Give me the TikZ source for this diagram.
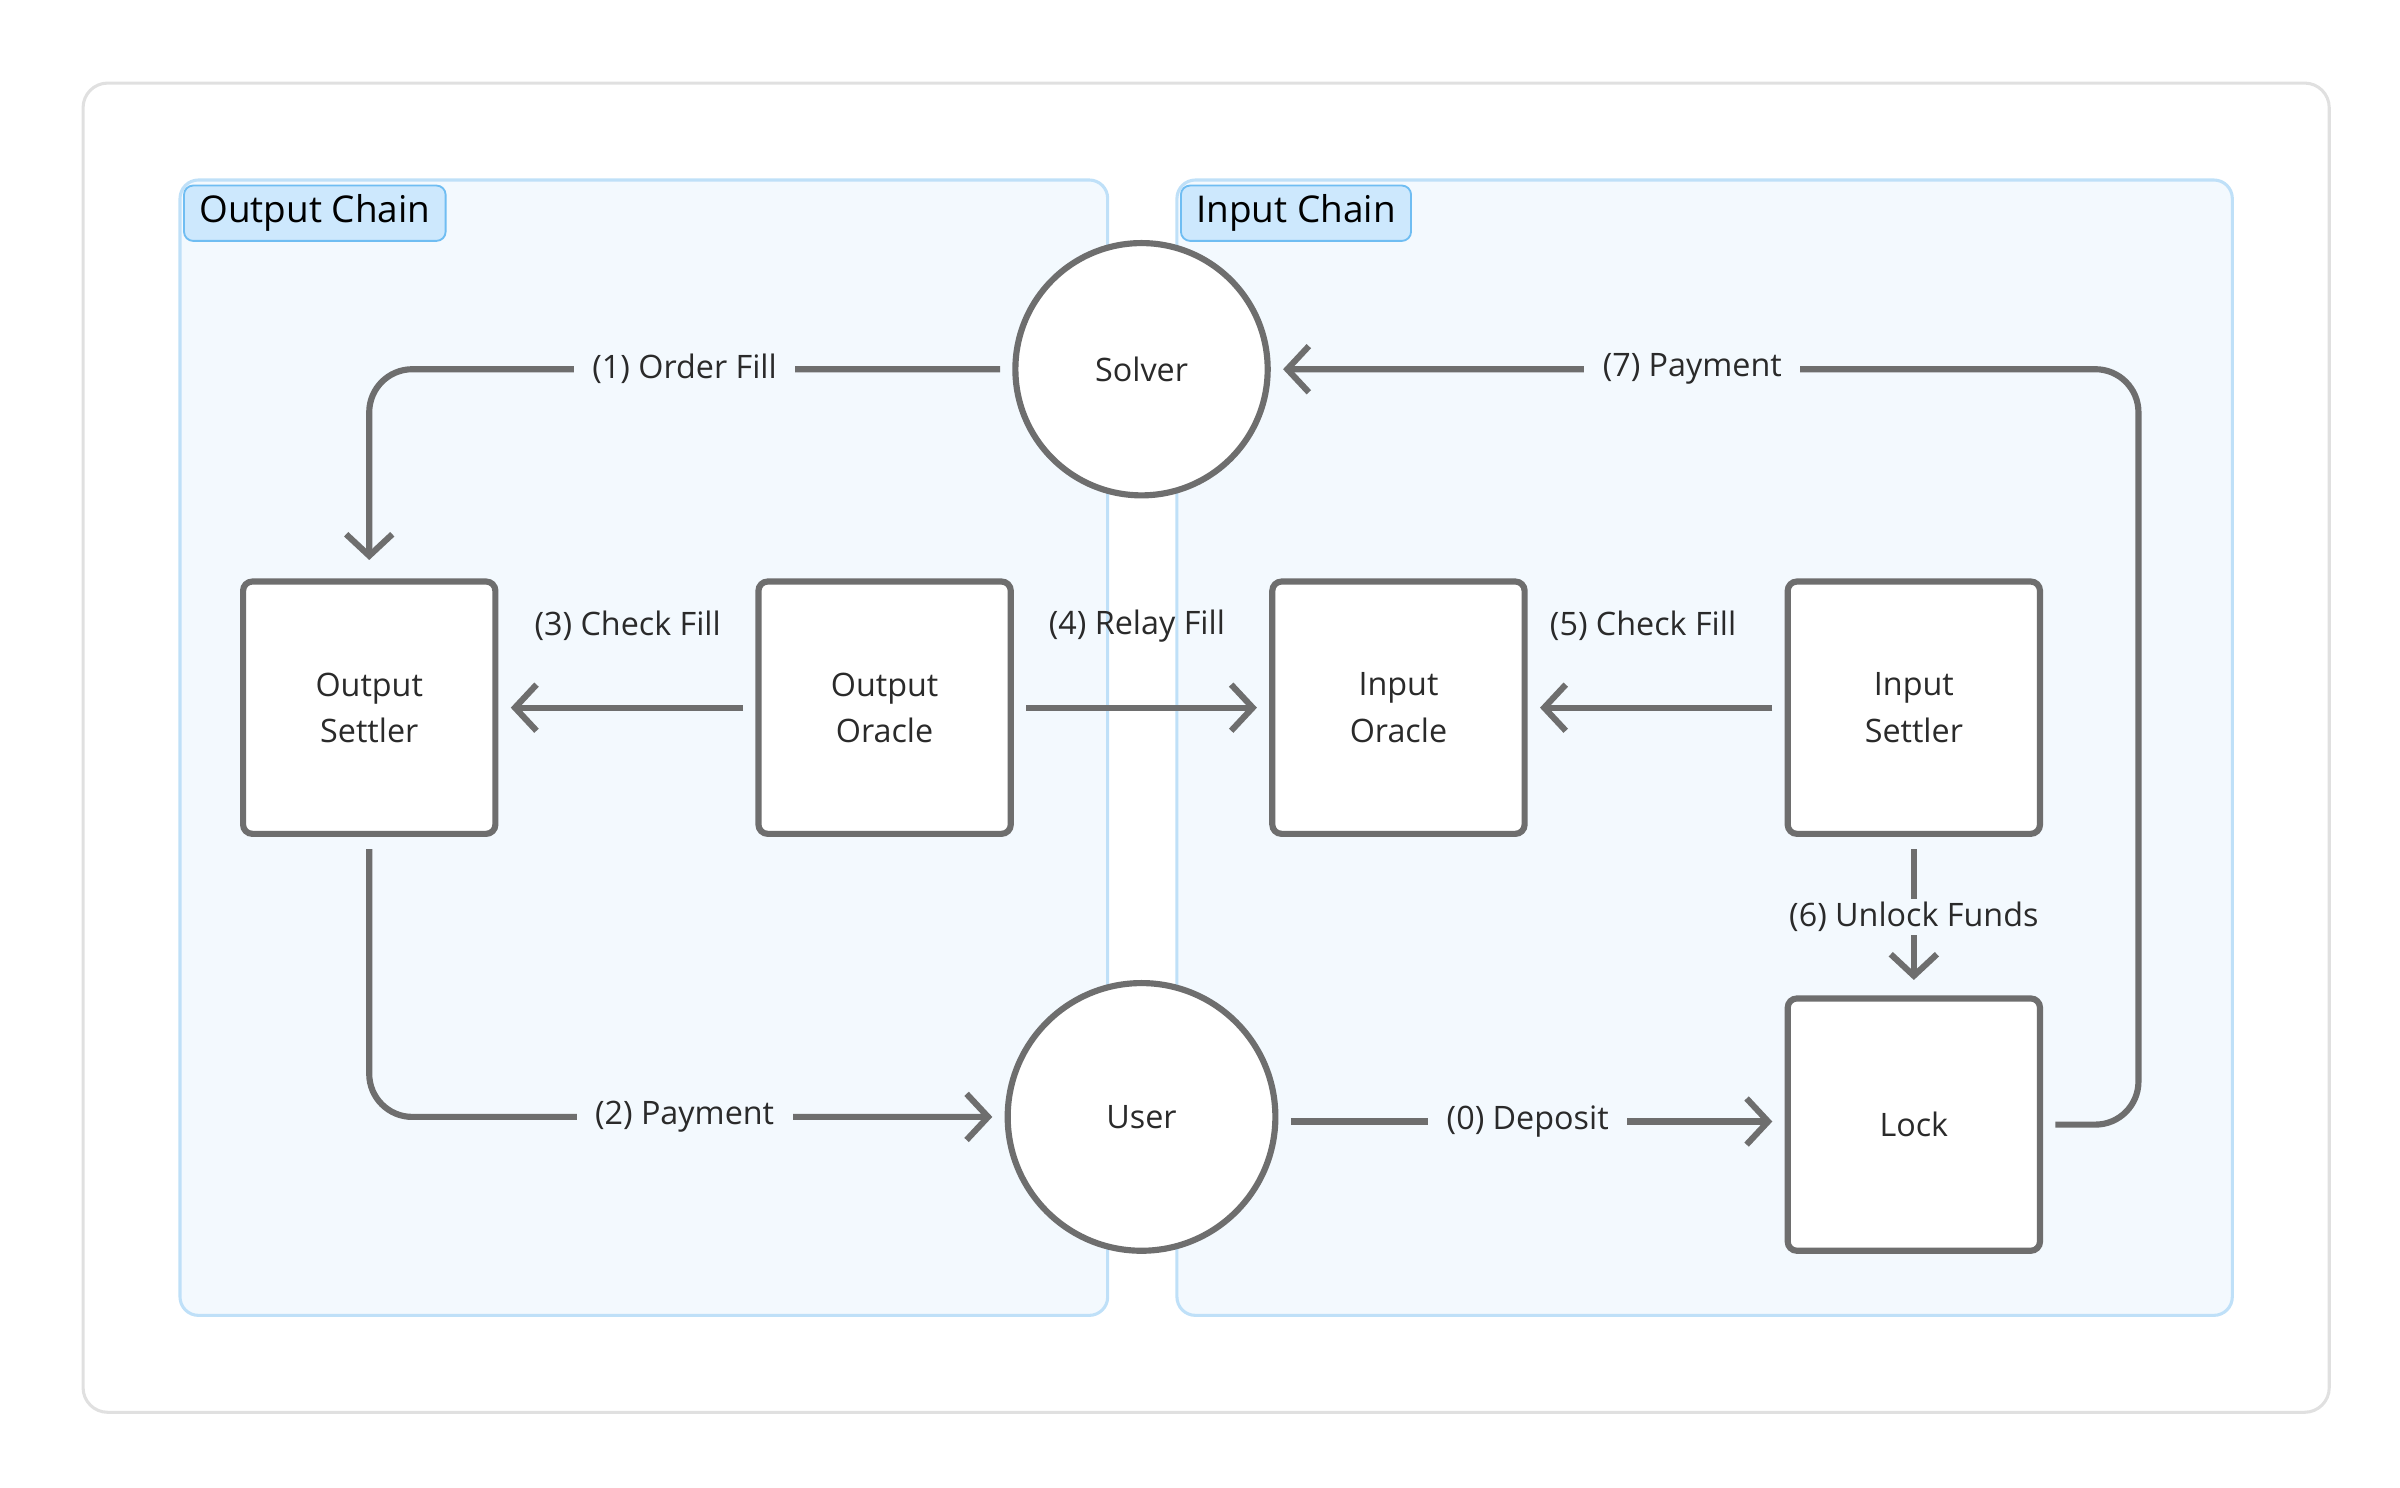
\documentclass[tikz,border=0pt]{standalone}
\usepackage{fontspec}
\setmainfont{Open Sans}
\usetikzlibrary{arrows.meta}
\definecolor{bgblue}{HTML}{F3F9FE}
\definecolor{edgeblue}{HTML}{BFE0F8}
\definecolor{tagfill}{HTML}{CDE8FD}
\definecolor{tagedge}{HTML}{6FBDF2}
\definecolor{ink}{HTML}{6E6E6E}
\definecolor{txt}{HTML}{2A2A2A}
\tikzset{
  region/.style={draw=edgeblue,fill=bgblue,line width=1pt,rounded corners=6pt},
  tag/.style={draw=tagedge,fill=tagfill,line width=0.6pt,rounded corners=3pt,anchor=north west,inner xsep=5pt,inner ysep=3pt,font=\fontsize{12}{14}\selectfont,text=black},
  box/.style={draw=ink,fill=white,line width=2pt,rounded corners=3pt,minimum width=82pt,minimum height=82pt,align=center,font=\fontsize{10.5}{15}\selectfont,text=txt},
  circ/.style={draw=ink,fill=white,line width=2pt,circle,minimum size=82pt,font=\fontsize{10.5}{13}\selectfont,text=txt},
  conn/.style={draw=ink,line width=2pt,rounded corners=14pt},
  arr/.style={conn,-{Straight Barb[length=7pt,width=15pt,line width=2pt]}},
  lbl/.style={font=\fontsize{10.5}{13}\selectfont,text=txt,fill=bgblue,inner xsep=6pt},
  lbln/.style={font=\fontsize{10.5}{13}\selectfont,text=txt}
}
\begin{document}
\begin{tikzpicture}[x=0.5pt,y=-0.5pt]
\useasboundingbox (0,0) rectangle (1560,967);
\draw[draw=black!12,line width=1pt,rounded corners=8pt] (54,54) rectangle (1514,918);
\draw[region] (117,117) rectangle (720,855);
\draw[region] (765,117) rectangle (1451,855);
\node[tag] (toc) at (119,120) {Output Chain};
\node[tag] (tic) at (767,120) {Input Chain};

\node[circ] (solver) at (742,240) {Solver};
\node[circ,minimum size=87pt] (user) at (742,726) {User};
\node[box] (os) at (240,460) {Output\\Settler};
\node[box] (oo) at (575,460) {Output\\Oracle};
\node[box] (io) at (909,460) {Input\\Oracle};
\node[box] (is) at (1244,460) {Input\\Settler};
\node[box] (lock) at (1244,731) {Lock};

\coordinate (c1) at (240,240);
\draw[arr] ([xshift=-4pt]solver.west) -- (c1) -- ([yshift=6pt]os.north);
\node[lbl] at (445,240) {(1) Order Fill};

\coordinate (c2) at (240,726);
\draw[arr] ([yshift=-4pt]os.south) -- (c2) -- ([xshift=-4pt]user.west);
\node[lbl] at (445,726) {(2) Payment};

\draw[arr] ([xshift=-4pt]oo.west) -- ([xshift=4pt]os.east);
\node[lbln] at (408,407) {(3) Check Fill};
\draw[arr] ([xshift=4pt]oo.east) -- ([xshift=-4pt]io.west);
\node[lbln] at (739,407) {(4) Relay Fill};
\draw[arr] ([xshift=-4pt]is.west) -- ([xshift=4pt]io.east);
\node[lbln] at (1068,407) {(5) Check Fill};

\draw[arr] ([yshift=-4pt]is.south) -- ([yshift=5pt]lock.north);
\node[lbl,inner ysep=1pt] at (1244,596) {(6) Unlock Funds};

\draw[arr] ([xshift=4pt]user.east |- 0,729) -- ([xshift=-4pt]lock.west |- 0,729);
\node[lbl] at (993,729) {(0) Deposit};

\coordinate (c7a) at (1390,731);
\coordinate (c7b) at (1390,240);
\draw[arr] ([xshift=4pt]lock.east) -- (c7a) -- (c7b) -- ([xshift=4pt]solver.east);
\node[lbl] at (1100,240) {(7) Payment};
\end{tikzpicture}
\end{document}
